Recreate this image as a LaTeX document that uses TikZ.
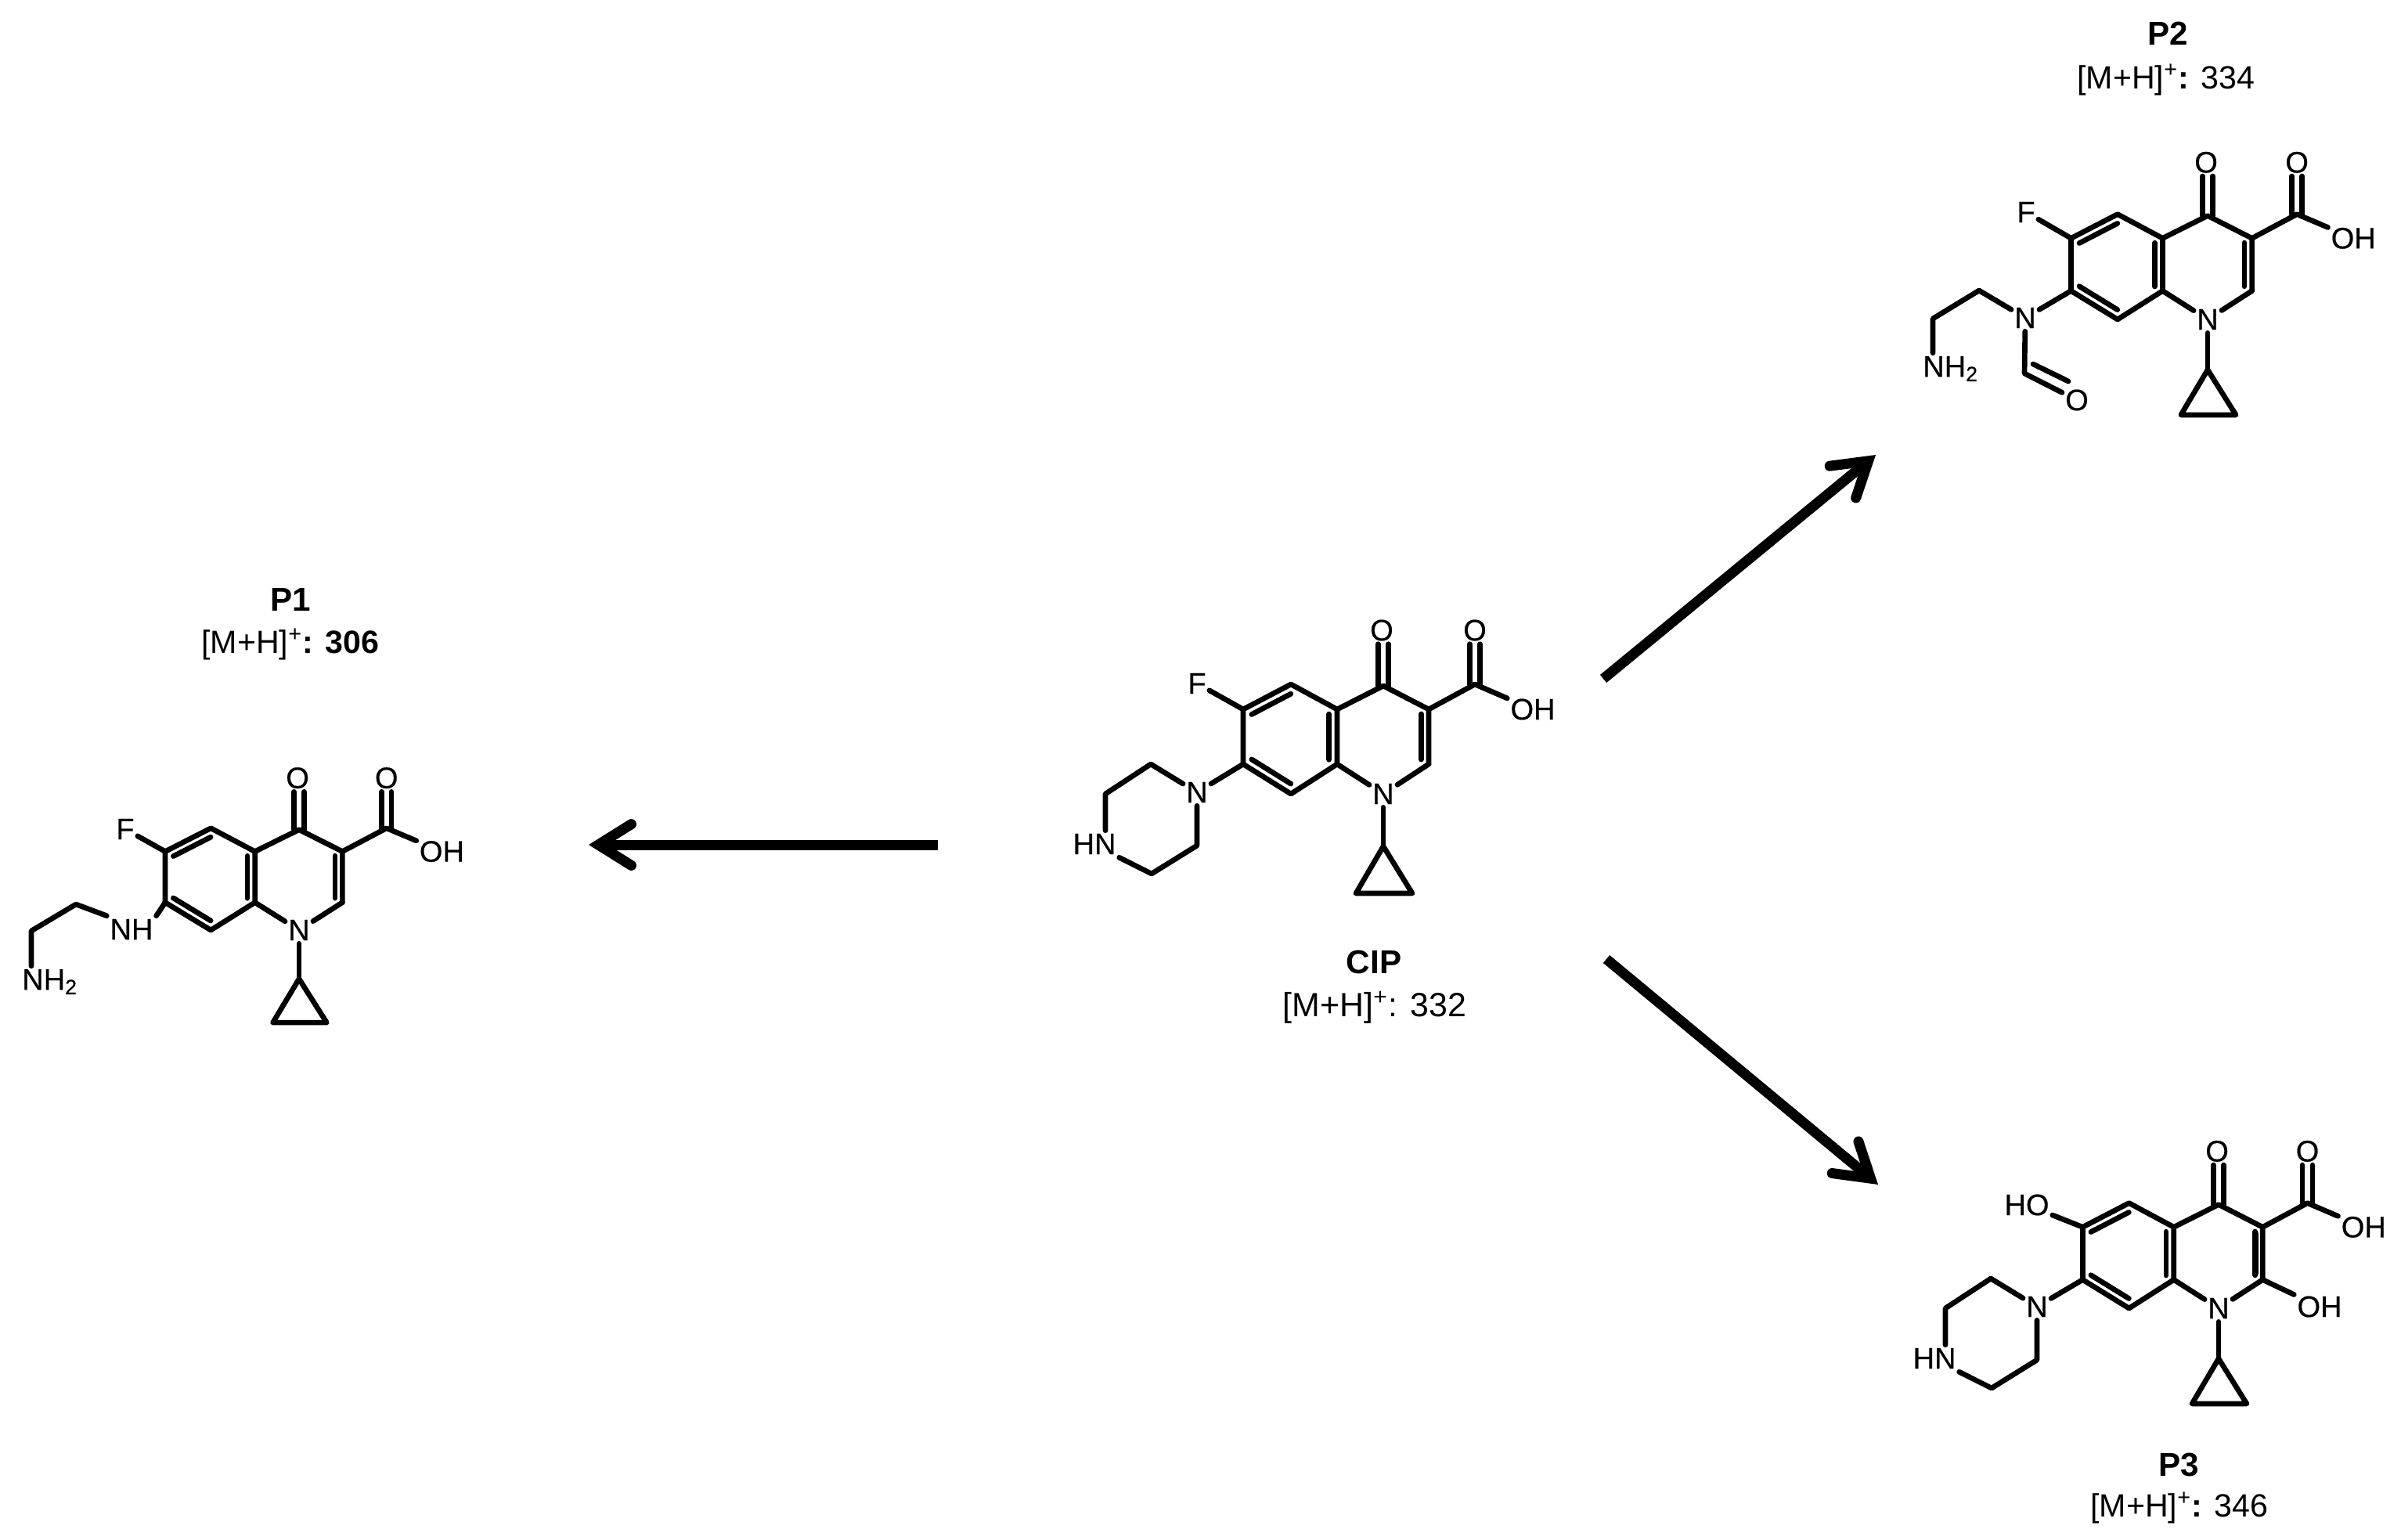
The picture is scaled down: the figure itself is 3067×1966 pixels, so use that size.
\documentclass[tikz,border=0pt]{standalone}
\usepackage{fontspec}
\setmainfont{Liberation Sans}
\newfontfamily\atomfam[FakeBold=0.5]{Liberation Sans}
\usetikzlibrary{calc,arrows.meta}
\tikzset{
  bond/.style={line width=1.9pt,line cap=round,line join=round},
  atom/.style={inner sep=1pt,font=\fontsize{10.8}{12}\selectfont\atomfam},
  molname/.style={inner sep=0pt,font=\fontsize{12}{14}\selectfont\bfseries},
  molmass/.style={inner sep=0pt,font=\fontsize{11.7}{14}\selectfont},
  react/.style={line width=3.7pt,-{Straight Barb[length=12pt,width=15pt,line cap=round,line join=miter]}},
  % quinolone core, origin on the ring nitrogen
  core/.pic={
    \node[atom] (n1) at (0,0) {N};
    \node[atom] (o4) at (-2,-209) {O};
    \node[atom] (o) at (117,-209) {O};
    \node[atom] (oh) at (191,-108) {OH};
    \coordinate (c8a) at (-59,-38);
    \coordinate (c8) at (-118,0);
    \coordinate (c7) at (-179,-38);
    \coordinate (c6) at (-179,-108);
    \coordinate (c5) at (-118,-140);
    \coordinate (c4a) at (-59,-108);
    \coordinate (c4) at (0,-138);
    \coordinate (c3) at (58,-108);
    \coordinate (c2) at (58,-38);
    \coordinate (acid) at (117,-140);
    \coordinate (ringa) at (-119,-72);
    \coordinate (ringb) at (0,-73);
    \coordinate (cpa) at (0,67);
    \coordinate (cpb) at (-35,127);
    \coordinate (cpc) at (37,127);
    \draw[bond] (c8a) -- (c8) -- (c7) -- (c6) -- (c5) -- (c4a) -- (c8a);
    \draw[bond] (c4a) -- (c4) -- (c3) -- (c2);
    \draw[bond] (c3) -- (acid) -- (oh);
    \draw[bond] (c8a) -- (n1) -- (c2);
    \draw[bond] (n1) -- (cpa);
    \draw[bond] (cpa) -- (cpb) -- (cpc) -- cycle;
    \draw[bond] ($(c6)!.18!(ringa)$) -- ($(c5)!.18!(ringa)$);
    \draw[bond] ($(c7)!.18!(ringa)$) -- ($(c8)!.18!(ringa)$);
    \draw[bond] ($(c4a)!.17!(ringa)$) -- ($(c8a)!.17!(ringa)$);
    \draw[bond] ($(c3)!.17!(ringb)$) -- ($(c2)!.17!(ringb)$);
    \foreach \s in {-1.9pt,1.9pt}{
      \draw[bond] ([xshift=\s]c4) -- ([xshift=\s]c4|-o4.south);
      \draw[bond] ([xshift=\s]acid) -- ([xshift=\s]acid|-o.south);
    }
  },
  % piperazine ring, origin on the tertiary nitrogen
  pip/.pic={
    \node[atom] (n) at (0,0) {N};
    \node[atom] (hn) at (-131,66) {HN};
    \coordinate (pa) at (-59,-36);
    \coordinate (pb) at (-117,2);
    \coordinate (pc) at (-58,104);
    \coordinate (pd) at (0,68);
    \draw[bond] (n) -- (pa) -- (pb) -- (pb|-hn.north);
    \draw[bond] (hn.south east) -- (pc) -- (pd) -- (n);
  }
}
\begin{document}
\begin{tikzpicture}[x=0.01cm,y=-0.01cm]
\useasboundingbox (0,0) rectangle (3067,1966);

%CIP
\pic (cip-) at (1767,1014) {core};
\pic (cipr-) at (1529,1012) {pip};
\node[atom] (cip-f) at (1529,873) {F};
\draw[bond] (cip-c6) -- (cip-f);
\draw[bond] (cip-c7) -- (cipr-n);
\node[molname] (cip-name) at (1755,1229) {CIP};
\node[molmass,font=\fontsize{12.2}{14}\selectfont] (cip-mass) at (1756,1287) {[M+H]\textsuperscript{+}: 332};

%P1
\pic[xscale=.955,yscale=.93] (p1-) at (382,1188) {core};
\node[atom] (p1-f) at (160,1059) {F};
\node[atom] (p1-nh) at (168,1187) {NH};
\node[atom] (p1-nt) at (64,1254) {NH\textsubscript{2}};
\coordinate (p1-ca) at (97,1155);
\coordinate (p1-cb) at (40,1189);
\draw[bond] (p1-c6) -- (p1-f);
\draw[bond] (p1-c7) -- (p1-nh.north east);
\draw[bond] (p1-nh.north west) -- (p1-ca) -- (p1-cb) -- (p1-cb|-p1-nt.north);
\node[molname] (p1-name) at (371,766) {P1};
\node[molmass] (p1-mass) at (371,823) {[M+H]\textsuperscript{+}\textbf{: 306}};

%P2
\pic[xscale=.975,yscale=.96] (p2-) at (2820,408) {core};
\node[atom] (p2-f) at (2588,271) {F};
\node[atom] (p2-n) at (2587,406) {N};
\node[atom] (p2-nt) at (2492,471) {NH\textsubscript{2}};
\node[atom] (p2-o) at (2653,511) {O};
\coordinate (p2-ca) at (2528,371);
\coordinate (p2-cb) at (2469,407);
\coordinate (p2-cho) at (2586,477);
\draw[bond] (p2-c6) -- (p2-f);
\draw[bond] (p2-c7) -- (p2-n);
\draw[bond] (p2-n) -- (p2-ca) -- (p2-cb) -- (p2-cb|-p2-nt.north);
\draw[bond] (p2-n) -- (p2-cho) -- (p2-o);
\draw[bond] ($(p2-cho)+(11,-12)$) -- ($(p2-o)+(-11,-24)$);
\node[molname] (p2-name) at (2769,43) {P2};
\node[molmass] (p2-mass) at (2767,102) {[M+H]\textsuperscript{+}\textbf{:} 334};

%P3
\pic[xscale=.97,yscale=.96] (p3-) at (2834,1671) {core};
\pic (p3r-) at (2602,1669) {pip};
\node[atom] (p3-ho) at (2589,1539) {HO};
\node[atom] (p3-oh) at (2963,1669) {OH};
\draw[bond] (p3-c6) -- (p3-ho);
\draw[bond] (p3-c7) -- (p3r-n);
\draw[bond] (p3-c2) -- (p3-oh);
\draw[bond] ($(p3-c3)+(-9,8)$) -- ($(p3-c2)+(-9,-8)$);
\node[molname] (p3-name) at (2783,1871) {P3};
\node[molmass] (p3-mass) at (2784,1926) {[M+H]\textsuperscript{+}\textbf{:} 346};

%reactions
\coordinate (to-p1a) at (1198,1079);
\coordinate (to-p1b) at (752,1079);
\coordinate (to-p2a) at (2048,867);
\coordinate (to-p2b) at (2396,581);
\coordinate (to-p3a) at (2052,1225);
\coordinate (to-p3b) at (2399,1513);
\draw[react] (to-p1a) -- (to-p1b);
\draw[react] (to-p2a) -- (to-p2b);
\draw[react] (to-p3a) -- (to-p3b);
\end{tikzpicture}
\end{document}
